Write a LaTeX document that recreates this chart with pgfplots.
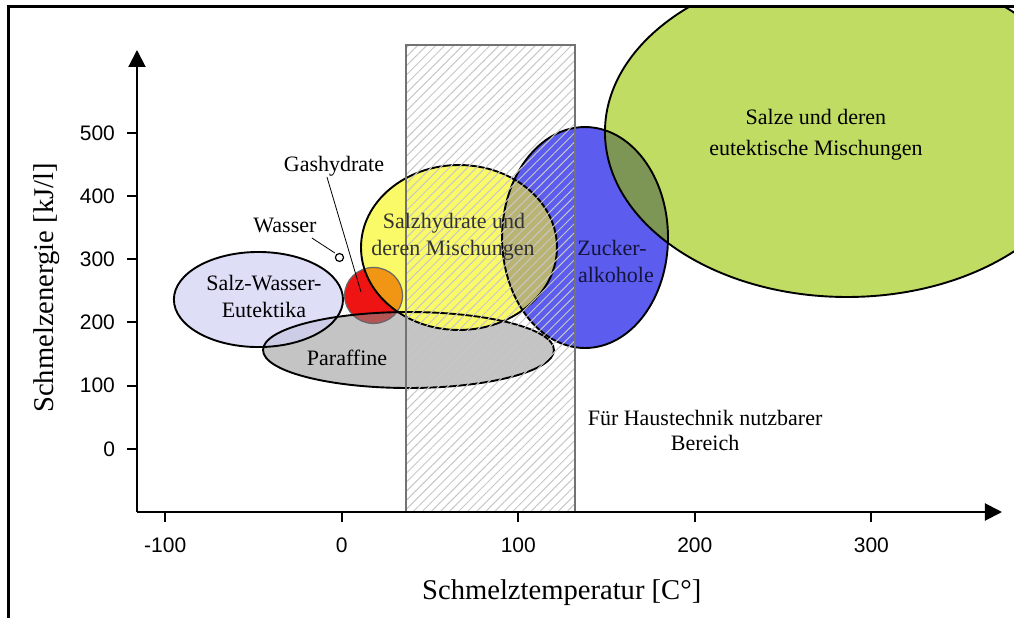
\documentclass[border=0pt]{standalone}
\usepackage{pgfplots}
\pgfplotsset{compat=1.18}
\usepackage{fontspec}
\setmainfont{Liberation Serif}
\newfontfamily\arial{Liberation Sans}
\usetikzlibrary{arrows.meta,patterns.meta}

\definecolor{cGreen}{RGB}{192,220,98}
\definecolor{cBlue}{RGB}{92,92,238}
\definecolor{cYellow}{RGB}{250,250,105}
\definecolor{cGray}{RGB}{196,196,196}
\definecolor{cLav}{RGB}{222,222,247}
\definecolor{cRed}{RGB}{238,20,20}
\definecolor{cOrange}{RGB}{240,150,20}
\definecolor{cRedGray}{RGB}{180,85,85}
\definecolor{cLavGray}{RGB}{205,205,232}
\definecolor{cKhaki}{RGB}{185,180,115}
\definecolor{cOlive}{RGB}{125,150,85}

\newcommand\lbl{\fontsize{11}{13.5}\selectfont}

\begin{document}
\begin{tikzpicture}
\begin{scope}
\clip (-68.5pt,-52.5pt) rectangle (438.5pt,252.75pt);
\begin{axis}[
  scale only axis, width=432.5pt, height=231pt,
  xmin=-116, xmax=374, ymin=-100, ymax=631,
  axis lines=left,
  axis line style={line width=1pt, -{Triangle[length=8.5pt,width=8.5pt]}},
  tick align=outside, major tick length=5pt,
  tick style={black, line width=1pt},
  xtick={-100,0,100,200,300},
  ytick={0,100,200,300,400,500},
  minor tick num=0,
  /pgf/number format/assume math mode=true,
  tick label style={font=\arial\fontsize{10.5}{12}\selectfont},
  xticklabel style={yshift=-4.5pt},
  yticklabel style={xshift=-2.5pt},
  xlabel={Schmelztemperatur [C°]},
  ylabel={Schmelzenergie [kJ/l]},
  xlabel style={font=\fontsize{14.3}{17}\selectfont, at={(axis description cs:0.491,-0.19)}, anchor=base},
  ylabel style={font=\fontsize{14.3}{17}\selectfont, at={(axis description cs:-0.096,0.485)}, anchor=base},
  clip=false, axis on top,
]
  % fills
  \fill[cRed] (axis cs:18,242.6) ellipse [x radius=16.4, y radius=44.3];
  \fill[cGray] (axis cs:37.8,156.3) ellipse [x radius=82.4, y radius=60.1];
  \fill[cLav] (axis cs:-47.2,236.2) ellipse [x radius=47.9, y radius=75.2];
  \begin{scope}
    \clip (axis cs:37.8,156.3) ellipse [x radius=82.4, y radius=60.1];
    \fill[cLavGray] (axis cs:-47.2,236.2) ellipse [x radius=47.9, y radius=75.2];
  \end{scope}
  \fill[cBlue] (axis cs:137.8,334.3) ellipse [x radius=47, y radius=174.8];
  \fill[cYellow] (axis cs:66.4,318.5) ellipse [x radius=55.5, y radius=130.5];
  \begin{scope}
    \clip (axis cs:66.4,318.5) ellipse [x radius=55.5, y radius=130.5];
    \fill[cOrange] (axis cs:18,242.6) ellipse [x radius=16.4, y radius=44.3];
  \end{scope}
  \begin{scope}
    \clip (axis cs:37.8,156.3) ellipse [x radius=82.4, y radius=60.1];
    \fill[cRedGray] (axis cs:18,242.6) ellipse [x radius=16.4, y radius=44.3];
  \end{scope}
  \begin{scope}
    \clip (axis cs:137.8,334.3) ellipse [x radius=47, y radius=174.8];
    \fill[cKhaki] (axis cs:66.4,318.5) ellipse [x radius=55.5, y radius=130.5];
  \end{scope}
  \fill[cGreen] (axis cs:286.2,501.3) ellipse [x radius=137.1, y radius=261.1];
  \begin{scope}
    \clip (axis cs:137.8,334.3) ellipse [x radius=47, y radius=174.8];
    \fill[cOlive] (axis cs:286.2,501.3) ellipse [x radius=137.1, y radius=261.1];
  \end{scope}
  % outlines
  \draw[black!60, line width=0.6pt] (axis cs:18,242.6) ellipse [x radius=16.4, y radius=44.3];
  \draw[line width=0.95pt] (axis cs:37.8,156.3) ellipse [x radius=82.4, y radius=60.1];
  \draw[line width=0.95pt] (axis cs:-47.2,236.2) ellipse [x radius=47.9, y radius=75.2];
  \draw[line width=0.95pt] (axis cs:137.8,334.3) ellipse [x radius=47, y radius=174.8];
  \draw[line width=0.95pt] (axis cs:66.4,318.5) ellipse [x radius=55.5, y radius=130.5];
  \draw[line width=0.95pt] (axis cs:286.2,501.3) ellipse [x radius=137.1, y radius=261.1];
  % Wasser
  \draw[line width=0.6pt, fill=white] (axis cs:-1.3,302.7) ellipse [x radius=2.3, y radius=6.3];
  \draw[line width=0.4pt] (axis cs:-16.9,333.5) -- (axis cs:-3.9,309.8);
  \draw[line width=0.4pt] (axis cs:-8.4,430.1) -- (axis cs:10.9,248.1);
  % nutzbarer Bereich
  \draw[draw=black!55, line width=0.6pt, pattern={Lines[angle=45,distance=3.2pt,line width=0.5pt]}, pattern color=black!22]
    (axis cs:36.4,-100) rectangle (axis cs:132.1,638.9);
  % labels
  \node[font=\lbl] at (axis cs:268.6,525) {Salze und deren};
  \node[font=\lbl] at (axis cs:268.6,472.8) {eutektische Mischungen};
  \node[font=\lbl, text=black!80] at (axis cs:63.6,357.3) {Salzhydrate und};
  \node[font=\lbl, text=black!80] at (axis cs:63,314.6) {deren Mischungen};
  \node[font=\lbl, text={rgb,255:red,20;green,20;blue,60}] at (axis cs:153.1,317.7) {Zucker-};
  \node[font=\lbl, text={rgb,255:red,20;green,20;blue,60}] at (axis cs:155.3,275) {alkohole};
  \node[font=\lbl] at (axis cs:-44.1,262.3) {Salz-Wasser-};
  \node[font=\lbl] at (axis cs:-44.1,219.6) {Eutektika};
  \node[font=\lbl] at (axis cs:3,143.7) {Paraffine};
  \node[font=\lbl] at (axis cs:-32.2,354.1) {Wasser};
  \node[font=\lbl] at (axis cs:-4.4,447.5) {Gashydrate};
  \node[font=\lbl] at (axis cs:205.8,48.7) {Für Haustechnik nutzbarer};
  \node[font=\lbl] at (axis cs:205.8,9.2) {Bereich};
\end{axis}
\end{scope}
\draw[line width=1.25pt] (-64.25pt,-60pt) -- (-64.25pt,252.75pt) -- (445pt,252.75pt);
\pgfresetboundingbox
\path[use as bounding box] (-68.5pt,-52.5pt) rectangle (438.5pt,256pt);
\end{tikzpicture}
\end{document}
